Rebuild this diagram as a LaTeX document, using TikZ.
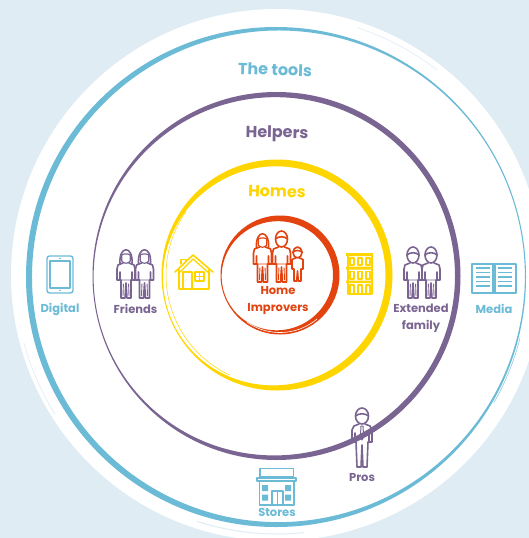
\documentclass[tikz,border=0pt]{standalone}
\usepackage{fontspec}
\setmainfont{Poppins}
\definecolor{bgblue}{HTML}{DFECF3}
\definecolor{cblue}{HTML}{6BBAD6}
\definecolor{cpurple}{HTML}{7A6592}
\definecolor{cyellow}{HTML}{FFD500}
\definecolor{cred}{HTML}{E2430F}
% colour, cx, cy, outer radius, thickest, thinnest, angle of thinnest, taper power
\newcommand\taperring[8]{%
  \fill[#1,even odd rule] (#2,#3) circle[radius=#4pt]
    plot[domain=0:360,samples=181,smooth]
    ({#2+(#4-(#5-(#5-#6)*((1.0001+cos(\x-#7))/2)^#8))*cos(\x)},
     {#3+(#4-(#5-(#5-#6)*((1.0001+cos(\x-#7))/2)^#8))*sin(\x)}) -- cycle;}
\tikzset{
  lbl/.style={font=\bfseries\fontsize{11.5}{17}\selectfont,align=center,inner sep=0pt},
  ringlbl/.style={font=\bfseries\fontsize{16}{18}\selectfont,inner sep=0pt,rotate=-2},
  icon/.style={line width=1.6pt,line join=round,line cap=round},
  swoosh/.style={bgblue,line width=.6pt},
  figbody/.pic={
    \draw[icon] (-3,16) -- (-8,18) -- (-9,22) -- (-9,33) -- (-6,33) -- (-6,25)
       -- (-6,33) -- (-5,33) -- (-5,51) -- (-1,51) -- (0,36) -- (1,51) -- (5,51) -- (5,33)
       -- (6,33) -- (6,25) -- (6,33) -- (9,33) -- (9,22) -- (8,18) -- (3,16);
    \draw[icon,line width=.9pt] (-6,33) -- (6,33) (-2.6,37) -- (-3,49) (2.6,37) -- (3,49);
  },
  pics/man/.style={code={
    \draw[icon] (0,8) ellipse[x radius=6,y radius=8];
    \draw[icon] (-6,8) .. controls (-3,5) and (3,5) .. (6,8);
    \pic {figbody};
  }},
  pics/woman/.style={code={
    \draw[icon] (-6,17) .. controls (-7.5,-2) and (7.5,-2) .. (6,17);
    \draw[icon,line width=1.2pt] (-4.3,14) -- (-4.3,8) .. controls (-2,6.5) and (2,6.5) .. (4.3,8) -- (4.3,14) .. controls (2,17) and (-2,17) .. (-4.3,14);
    \pic {figbody};
  }},
  pics/kid/.style={code={
    \draw[icon] (0,5.5) ellipse[x radius=4.5,y radius=5.5];
    \draw[icon] (-4.5,5) .. controls (-2,3) and (2,3) .. (4.5,5);
    \draw[icon] (-2,11) -- (-5.5,12.5) -- (-5.5,22) -- (-3.5,22) -- (-3.5,34) -- (-.8,34) -- (0,24)
      -- (.8,34) -- (3.5,34) -- (3.5,22) -- (5.5,22) -- (5.5,12.5) -- (2,11);
  }},
  pics/pro/.style={code={
    \draw[icon] (0,8) ellipse[x radius=6.5,y radius=8];
    \draw[icon] (-6.5,8) .. controls (-3,5) and (3,5) .. (6.5,8);
    \draw[icon] (-3,16) -- (-8,18) -- (-10,22) -- (-10,34) -- (-7,34) -- (-7,25)
       -- (-7,34) -- (-6,34) -- (-5,59) -- (-1,59) -- (0,37) -- (1,59) -- (5,59) -- (6,34)
       -- (7,34) -- (7,25) -- (7,34) -- (10,34) -- (10,22) -- (8,18) -- (3,16);
    \draw[icon,line width=1pt] (-1,18) -- (1,18) -- (1.6,29) -- (0,32) -- (-1.6,29) -- cycle;
  }}
}
\begin{document}
\begin{tikzpicture}[x=1pt,y=-1pt]
\useasboundingbox (0,0) rectangle (529,538);
\fill[bgblue] (0,0) rectangle (529,538);
% white backing disc and its faint brush marks
\fill[white] (277,275) circle[radius=266pt];
\draw[swoosh] plot[domain=-72:-52,samples=30] ({277+260*cos(\x)},{275+260*sin(\x)});
\draw[swoosh] plot[domain=148:165,samples=30] ({277+262*cos(\x)},{275+262*sin(\x)});
\draw[swoosh,line width=1pt] plot[domain=84:108,samples=30] ({277+259*cos(\x)},{275+259*sin(\x)});

% rings
\taperring{cblue}{276}{277}{250}{6}{1}{-15}{1.5}
\draw[cblue,line width=.4pt] plot[domain=14:30,samples=30] ({276+251.5*cos(\x)},{277+251.5*sin(\x)});
\taperring{cpurple}{276.5}{276}{184}{5.5}{1}{170}{3}
\taperring{cyellow}{277}{275}{115.5}{7}{1}{160}{3}
\draw[cyellow,line width=.5pt] plot[domain=115:215,samples=60] ({276.5+110.5*cos(\x)},{275+110.5*sin(\x)});
\taperring{cred}{280}{275}{59.5}{6.5}{1}{165}{2}
\draw[white,line width=.6pt] plot[domain=50:125,samples=40] ({280+57.5*cos(\x)},{275+57.5*sin(\x)});

% ring labels
\node[ringlbl,text=cblue] (tools) at (275,69.5) {The tools};
\node[ringlbl,text=cpurple,rotate=1] (helpers) at (277,134) {Helpers};
\node[ringlbl,text=cyellow] (homes) at (277,191.5) {Homes};

% home improvers
\pic[color=cred] at (262.5,231) {woman};
\pic[color=cred] at (281.5,231) {man};
\pic[color=cred] at (297.5,247) {kid};
\node[lbl,text=cred] (improvers) at (278,300.5) {Home\\Improvers};

% house
\begin{scope}[color=cyellow]
\draw[icon,line width=1.6pt] (175,272) -- (193,255) -- (213,272) (179,270) -- (179,289) -- (209,289) -- (209,270);
\draw[icon,line width=1.3pt] (178,274) -- (193,259) -- (210,274);
\draw[icon,line width=1.3pt] (181,264) -- (181,259.5) -- (186,259.5) -- (186,261);
\draw[icon,line width=1.3pt] (183,289) -- (183,272) -- (192,272) -- (192,289);
\draw[icon,line width=1.3pt] (195,272) rectangle (204,281) (199.5,272) -- (199.5,281) (195,276.5) -- (204,276.5);
\fill (186,280) circle[radius=.7pt];
% apartment block
\fill (346,253) rectangle (373,256) (346,266.5) rectangle (373,269.5) (346,280.5) rectangle (373,283);
\draw[icon,line width=1.2pt] (348,255) rectangle (372,294);
\foreach \xx in {352,360,368}{
  \draw[icon,line width=1.1pt] (\xx-2,258) rectangle (\xx+2,265) (\xx-2,271.5) rectangle (\xx+2,279) (\xx-2,285) rectangle (\xx+2,294);
}
\end{scope}

% friends
\pic[color=cpurple] at (126,247) {woman};
\pic[color=cpurple] at (144.5,247) {woman};
\node[lbl,text=cpurple] (friends) at (135.5,309) {Friends};
% extended family
\pic[color=cpurple] at (413,247) {man};
\pic[color=cpurple] at (431,247) {man};
\node[lbl,text=cpurple] (family) at (421,318) {Extended\\family};
% pros
\pic[color=cpurple] at (362,408) {pro};
\node[lbl,text=cpurple] (pros) at (362,478) {Pros};

% tablet
\begin{scope}[color=cblue]
\draw[icon,line width=1.4pt,rounded corners=2.5pt] (47,256) rectangle (73,293);
\draw[icon,line width=1.4pt] (50,261) rectangle (70,288);
\fill (60,258.5) circle[radius=.8pt] (60,290.5) circle[radius=.8pt];
\end{scope}
\node[lbl,text=cblue] (digital) at (60,309) {Digital};

% book
\begin{scope}[color=cblue]
\draw[icon] (472,264) rectangle (516,293);
\draw[icon,line width=1.2pt] (493,264) -- (493,293) (495,264) -- (495,293);
\foreach \yy in {268,272.5,277,281.5,286}{
  \draw[line width=1.1pt] (476,\yy) -- (490,\yy) (498,\yy) -- (512,\yy);
}
\end{scope}
\node[lbl,text=cblue] (media) at (494,309) {Media};

% store
\begin{scope}[color=cblue]
\draw[icon,line width=1.4pt] (260,468.5) rectangle (293.5,477);
\draw[icon] (257,478) rectangle (296,481);
\draw[icon,line width=1.4pt] (259.5,481) -- (259.5,505) -- (294,505) -- (294,481);
\draw[icon,line width=1.4pt] (272,505) -- (272,491) -- (283,491) -- (283,505) (277.5,491) -- (277.5,505);
\fill (262,485) rectangle (268,491) (262,494.5) rectangle (268,500.5) (285,485) rectangle (291,491) (285,494.5) rectangle (291,500.5);
\end{scope}
\node[lbl,text=cblue] (stores) at (277,512.5) {Stores};
\end{tikzpicture}
\end{document}
